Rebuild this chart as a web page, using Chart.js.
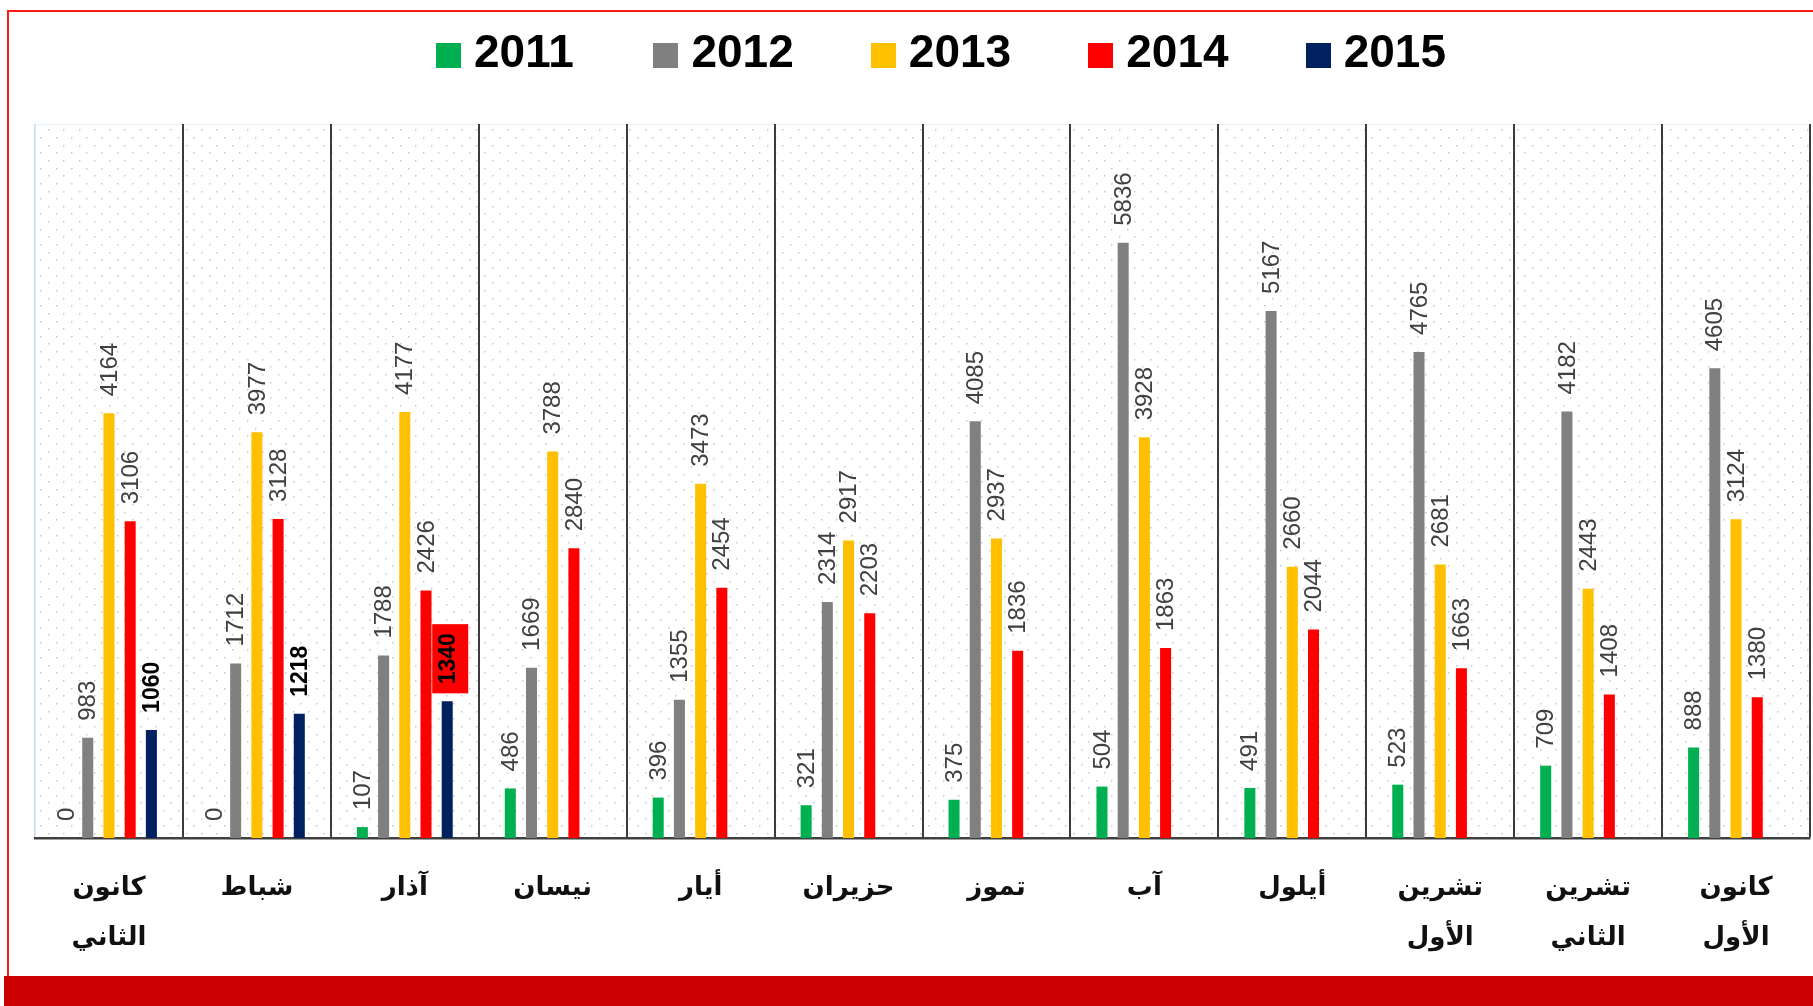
<!DOCTYPE html>
<html><head><meta charset="utf-8">
<script src="https://cdn.jsdelivr.net/npm/chart.js@4.4.1/dist/chart.umd.min.js"></script>
<style>
html,body{margin:0;padding:0;background:#fff;overflow:hidden;}
#wrap{position:relative;width:1813px;height:1006px;}
#frameTop{position:absolute;left:7px;top:10px;width:1806px;height:2px;background:#ff1a1a;}
#frameLeft{position:absolute;left:7px;top:10px;width:2px;height:966px;background:#ff1a1a;}
#bottomBar{position:absolute;left:4px;top:976px;width:1809px;height:30px;background:#cc0000;}
canvas{position:absolute;left:0;top:0;}
</style></head><body>
<div id="wrap">
<div id="frameTop"></div><div id="frameLeft"></div><div id="bottomBar"></div>
<canvas id="c" width="1813" height="1006"></canvas>
</div>
<script>
const months = [["كانون","الثاني"],"شباط","آذار","نيسان","أيار","حزيران","تموز","آب","أيلول",["تشرين","الأول"],["تشرين","الثاني"],["كانون","الأول"]];
const years = ["2011","2012","2013","2014","2015"];
const v2011 = [0,0,107,486,396,321,375,504,491,523,709,888];
const v2012 = [983,1712,1788,1669,1355,2314,4085,5836,5167,4765,4182,4605];
const v2013 = [4164,3977,4177,3788,3473,2917,2937,3928,2660,2681,2443,3124];
const v2014 = [3106,3128,2426,2840,2454,2203,1836,1863,2044,1663,1408,1380];
const v2015 = [1060,1218,1340,null,null,null,null,null,null,null,null,null];
const colors = ["#00b050","#808080","#ffc000","#ff0000","#002060"];
const yMax = 7000;
const highlighted = {dataset: 4, index: 2};

const bgPlugin = {
  id: 'bgDots',
  beforeDraw(chart) {
    const {ctx, chartArea: a} = chart;
    ctx.save();
    ctx.fillStyle = '#c9c9c9';
    const sx = 15.3, sy = 7.65;
    let row = 0;
    for (let y = a.top + 5.3; y < a.bottom - 1; y += sy, row++) {
      const off = row % 2 === 0 ? 13 : 5.3;
      for (let x = a.left + off; x < a.right - 1; x += sx) {
        ctx.fillRect(Math.round(x), Math.round(y), 1.5, 1.5);
      }
    }
    ctx.strokeStyle = '#eef3fa';
    ctx.lineWidth = 1.5;
    ctx.beginPath();
    ctx.moveTo(a.left, a.top + 0.5); ctx.lineTo(a.right, a.top + 0.5);
    ctx.stroke();
    ctx.restore();
  }
};

const labelPlugin = {
  id: 'barLabels',
  afterDatasetsDraw(chart) {
    const ctx = chart.ctx;
    chart.data.datasets.forEach((ds, di) => {
      const meta = chart.getDatasetMeta(di);
      const bold = di === 4;
      meta.data.forEach((bar, i) => {
        const v = ds.data[i];
        if (v === null || v === undefined) return;
        const txt = String(v);
        ctx.save();
        ctx.font = bold ? 'bold 23px "Liberation Sans"' : '24px "Liberation Sans"';
        const w = ctx.measureText(txt).width;
        ctx.translate(bar.x, bar.y - 17 - w / 2);
        ctx.rotate(-Math.PI / 2);
        if (di === highlighted.dataset && i === highlighted.index) {
          ctx.fillStyle = '#ff0000';
          ctx.fillRect(-w / 2 - 9, -15, w + 18, 36);
        }
        ctx.fillStyle = bold ? '#000000' : '#404040';
        ctx.textAlign = 'center';
        ctx.textBaseline = 'middle';
        ctx.fillText(txt, 0, 1);
        ctx.restore();
      });
    });
  }
};

const legendPlugin = {
  id: 'customLegend',
  afterDraw(chart) {
    const ctx = chart.ctx;
    ctx.save();
    ctx.font = 'bold 46px "Liberation Sans"';
    ctx.textBaseline = 'alphabetic';
    const step = 217.4, box = 25, gap = 13;
    const lastW = ctx.measureText(chart.data.datasets[chart.data.datasets.length - 1].label).width;
    const total = step * (chart.data.datasets.length - 1) + box + gap + lastW;
    const center = 941;
    let x = center - total / 2;
    chart.data.datasets.forEach(ds => {
      ctx.fillStyle = ds.backgroundColor;
      ctx.fillRect(Math.round(x), 43, box, box);
      ctx.fillStyle = '#000';
      ctx.fillText(ds.label, x + box + gap, 67);
      x += step;
    });
    ctx.restore();
  }
};

const seriesValues = [v2011, v2012, v2013, v2014, v2015];

new Chart(document.getElementById('c'), {
  type: 'bar',
  data: {
    labels: months,
    datasets: years.map((y, k) => ({
      label: y,
      data: seriesValues[k],
      backgroundColor: colors[k],
      borderWidth: 0,
      barPercentage: 0.52,
      categoryPercentage: 0.717
    }))
  },
  options: {
    responsive: false,
    animation: false,
    devicePixelRatio: 1,
    layout: {padding: {left: 35, right: 3, top: 124, bottom: 0}},
    plugins: {legend: {display: false}, tooltip: {enabled: false}, title: {display: false}},
    scales: {
      x: {
        offset: true,
        grid: {
          offset: true,
          drawTicks: false,
          color: c => (c.index === 0 || c.index === 12) ? '#c6d9f0' : '#3c3c3c',
          lineWidth: c => (c.index === 0 || c.index === 12) ? 1.5 : 2
        },
        border: {display: true, color: '#404040', width: 2.5},
        ticks: {
          autoSkip: false,
          maxRotation: 0,
          padding: 25,
          color: '#111',
          font: {family: '"DejaVu Sans"', size: 26, weight: 'bold', lineHeight: 50 / 26}
        },
        afterFit: s => { s.height = 168; }
      },
      y: {
        display: false,
        min: 0,
        max: yMax
      }
    }
  },
  plugins: [bgPlugin, labelPlugin, legendPlugin]
});
</script>
</body></html>
